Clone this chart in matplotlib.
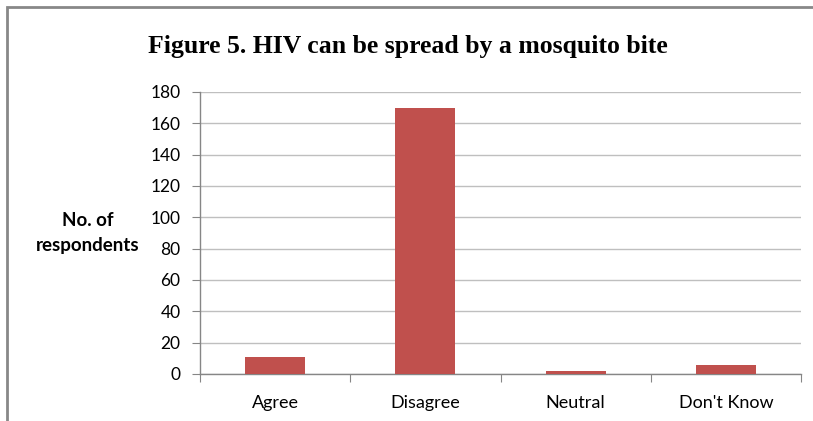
import matplotlib
matplotlib.use("Agg")
import matplotlib.pyplot as plt
from matplotlib.patches import Rectangle
import numpy as np

categories = ["Agree", "Disagree", "Neutral", "Don't Know"]
respondents = [11, 170, 2, 6]
y_ticks = [0, 20, 40, 60, 80, 100, 120, 140, 160, 180]

bar_color = "#C0504D"
grid_color = "#BFBFBF"
axis_color = "#868686"
label_font = ["Lato", "DejaVu Sans"]

fig = plt.figure(figsize=(8.13, 4.21), dpi=100)
ax = fig.add_axes([200 / 813, 1 - 374 / 421, 601 / 813, (374 - 92) / 421])

x = np.arange(len(categories))
ax.bar(x, respondents, width=0.4, color=bar_color, zorder=3)

ax.set_xlim(-0.5, len(categories) - 0.5)
ax.set_ylim(0, 180)
ax.set_yticks(y_ticks)
ax.yaxis.grid(True, color=grid_color, linewidth=1, zorder=0)

# category boundaries carry the tick marks, centres carry the labels
ax.set_xticks(np.arange(-0.5, len(categories), 1.0))
ax.set_xticklabels([])
ax.set_xticks(x, minor=True)
ax.set_xticklabels(categories, minor=True, fontfamily=label_font, fontsize=13)
ax.tick_params(axis="x", which="major", length=6, color=axis_color, direction="out")
ax.tick_params(axis="x", which="minor", length=0, pad=15)
ax.tick_params(axis="y", length=6, color=axis_color, direction="out", pad=8)
for lab in ax.get_yticklabels():
    lab.set_fontfamily(label_font)
    lab.set_fontsize(12.5)

for side in ["top", "right"]:
    ax.spines[side].set_visible(False)
for side in ["left", "bottom"]:
    ax.spines[side].set_color(axis_color)
    ax.spines[side].set_linewidth(1)

fig.text(88 / 813, 1 - 233 / 421, "No. of\nrespondents", ha="center", va="center",
         fontfamily=label_font, fontweight="bold", fontsize=13.5, linespacing=1.55)

fig.text(408 / 813, 1 - 47 / 421, "Figure 5. HIV can be spread by a mosquito bite",
         ha="center", va="center", fontfamily="Liberation Serif", fontweight="bold",
         fontsize=18.5)

# outer chart frame
fig.patches.append(Rectangle((6.5 / 813, -0.1), 1.1, 1 - 6.5 / 421 + 0.1,
                             transform=fig.transFigure, fill=False,
                             edgecolor="#888888", linewidth=2))

fig.savefig("out.png", dpi=100)
